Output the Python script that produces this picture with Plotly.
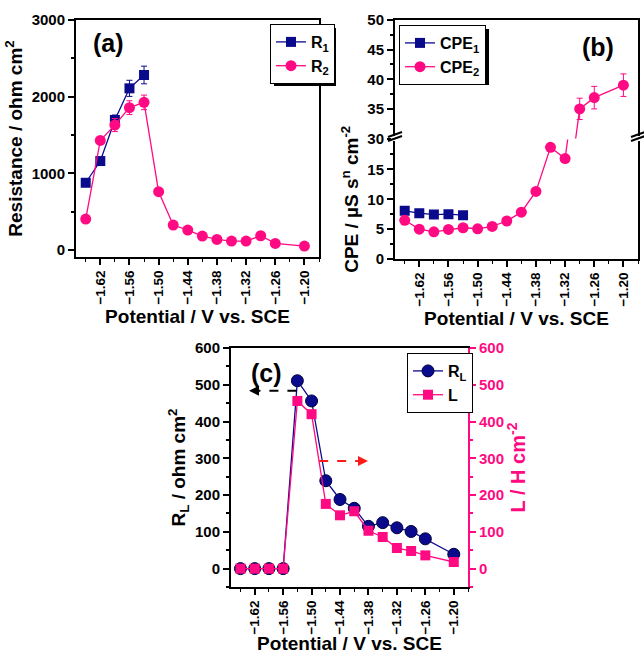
import plotly.graph_objects as go

# ---------------- data ----------------
potential = [-1.65, -1.62, -1.59, -1.56, -1.53, -1.50, -1.47, -1.44, -1.41,
             -1.38, -1.35, -1.32, -1.29, -1.26, -1.20]
potential_short = [-1.65, -1.62, -1.59, -1.56, -1.53]

r1 = [878, 1161, 1696, 2109, 2283]
r1_err = [25, 40, 65, 105, 115]
r2 = [404, 1430, 1630, 1857, 1926, 761, 326, 261, 183, 139, 117, 117, 187, 87, 52]
r2_err = [20, 30, 85, 90, 95, 20, 15, 10, 10, 10, 10, 10, 10, 10, 10]

cpe1 = [8.07, 7.67, 7.44, 7.50, 7.33]
cpe2 = [6.48, 5.00, 4.55, 4.94, 5.23, 5.06, 5.45, 6.36, 7.84, 11.3, 18.7, 16.8, 35.0, 36.9, 39.0]
cpe2_err = [0.2, 0.2, 0.2, 0.2, 0.2, 0.2, 0.2, 0.2, 0.2, 0.3, 0.5, 0.4, 1.8, 1.9, 1.9]

rl = [0, 0, 0, 0, 511, 456, 239, 188, 164, 115, 125, 111, 101, 81, 39]
l_ind = [0, 0, 0, 0, 456, 420, 176, 145, 156, 103, 86, 56, 48, 36, 18]

# ---------------- style ----------------
NAVY = "#0a0a8c"
PINK = "#ff0a82"
FONT = "Liberation Sans"
W, H = 644, 654

def px(x):
    return x / W

def py(y):
    return 1 - y / H

xtickfont = dict(family=FONT, size=13.5, color="black", weight="bold")
ytickfont = dict(family=FONT, size=15, color="black", weight="bold")
titlefont = dict(family=FONT, size=19, color="black", weight="bold")

fig = go.Figure()

# ---------------- panel (a) ----------------
fig.add_trace(go.Scatter(x=potential_short, y=r1, mode="lines+markers", name="R<sub>1</sub>",
                         line=dict(color=NAVY, width=1.3),
                         marker=dict(symbol="square", size=10, color=NAVY),
                         error_y=dict(type="data", array=r1_err, color=NAVY, thickness=1, width=3),
                         xaxis="x", yaxis="y", legend="legend"))
fig.add_trace(go.Scatter(x=potential, y=r2, mode="lines+markers", name="R<sub>2</sub>",
                         line=dict(color=PINK, width=1.3),
                         marker=dict(symbol="circle", size=11, color=PINK),
                         error_y=dict(type="data", array=r2_err, color=PINK, thickness=1, width=3),
                         xaxis="x", yaxis="y", legend="legend"))

# ---------------- panel (b) broken axis ----------------
fig.add_trace(go.Scatter(x=potential_short, y=cpe1, mode="lines+markers", name="CPE<sub>1</sub>",
                         line=dict(color=NAVY, width=1.3),
                         marker=dict(symbol="square", size=10, color=NAVY),
                         xaxis="x2", yaxis="y2", legend="legend2"))
fig.add_trace(go.Scatter(x=potential, y=cpe2, mode="lines+markers", name="CPE<sub>2</sub>",
                         line=dict(color=PINK, width=1.3),
                         marker=dict(symbol="circle", size=11, color=PINK),
                         error_y=dict(type="data", array=cpe2_err, color=PINK, thickness=1, width=3),
                         xaxis="x2", yaxis="y2", legend="legend2"))
fig.add_trace(go.Scatter(x=potential, y=cpe2, mode="lines+markers", name="CPE<sub>2</sub>",
                         line=dict(color=PINK, width=1.3),
                         marker=dict(symbol="circle", size=11, color=PINK),
                         error_y=dict(type="data", array=cpe2_err, color=PINK, thickness=1, width=3),
                         xaxis="x3", yaxis="y3", showlegend=False))

# ---------------- panel (c) ----------------
fig.add_trace(go.Scatter(x=potential, y=rl, mode="lines+markers", name="R<sub>L</sub>",
                         line=dict(color=NAVY, width=1.3),
                         marker=dict(symbol="circle", size=12, color=NAVY,
                                     line=dict(color="#000040", width=1)),
                         xaxis="x4", yaxis="y4", legend="legend3"))
fig.add_trace(go.Scatter(x=potential, y=l_ind, mode="lines+markers", name="L",
                         line=dict(color=PINK, width=1.3),
                         marker=dict(symbol="square", size=10, color=PINK),
                         xaxis="x4", yaxis="y5", legend="legend3"))

# ---------------- axes ----------------
xcommon = dict(range=[-1.67, -1.17], tick0=-1.62, dtick=0.06, tickformat=".2f",
               tickangle=-90, ticks="outside", ticklen=6, tickwidth=1.5, tickcolor="black",
               showline=True, linewidth=2, linecolor="black", showgrid=False, zeroline=False,
               tickfont=xtickfont, automargin=False,
               minor=dict(ticks="outside", ticklen=3, tickwidth=1.2, tick0=-1.62, dtick=0.03,
                          tickcolor="black", showgrid=False))

def ycommon(**kw):
    d = dict(ticks="outside", ticklen=6, tickwidth=1.5, tickcolor="black",
             showline=True, linewidth=2, linecolor="black", showgrid=False, zeroline=False,
             tickfont=ytickfont, automargin=False)
    d.update(kw)
    return d

xa = (px(76), px(319))
ya = (py(257), py(20))
xb = (px(395), px(638))
yb_low = (py(259), py(139.5))
yb_up = (py(138.5), py(20))
xc = (px(231), px(468))
yc = (py(587), py(348))

fig.update_layout(
    xaxis=dict(xcommon, domain=list(xa), anchor="y", mirror=True,
               title=dict(text="Potential / V vs. SCE", font=titlefont, standoff=6)),
    yaxis=dict(ycommon(range=[-90, 3000], dtick=1000, mirror=True,
                       minor=dict(ticks="outside", ticklen=3, dtick=500, tickcolor="black")),
               domain=list(ya), anchor="x",
               title=dict(text="Resistance / ohm cm<sup>2</sup>", font=titlefont, standoff=4)),
    xaxis2=dict(xcommon, domain=list(xb), anchor="y2",
                title=dict(text="Potential / V vs. SCE", font=titlefont, standoff=6)),
    yaxis2=dict(ycommon(range=[0, 20], tickvals=[0, 5, 10, 15], mirror=True,
                        minor=dict(ticks="outside", ticklen=3, tickvals=[2.5, 7.5, 12.5, 17.5],
                                   tickcolor="black")),
                domain=list(yb_low), anchor="x2",
                title=dict(text="CPE / µS s<sup>n</sup> cm<sup>-2</sup>", font=titlefont, standoff=4)),
    xaxis3=dict(range=[-1.67, -1.17], domain=list(xb), anchor="y3", matches="x2", side="top",
                showline=True, linewidth=2, linecolor="black", ticks="", showticklabels=False,
                showgrid=False, zeroline=False, automargin=False),
    yaxis3=dict(ycommon(range=[30, 50], dtick=5, mirror=True,
                        minor=dict(ticks="outside", ticklen=3, dtick=2.5, tickcolor="black")),
                domain=list(yb_up), anchor="x3"),
    xaxis4=dict(xcommon, domain=list(xc), anchor="y4", mirror=True,
                title=dict(text="Potential / V vs. SCE", font=titlefont, standoff=6)),
    yaxis4=dict(ycommon(range=[-50, 600], dtick=100,
                        minor=dict(ticks="outside", ticklen=3, dtick=50, tickcolor="black")),
                domain=list(yc), anchor="x4",
                title=dict(text="R<sub>L</sub> / ohm cm<sup>2</sup>", font=titlefont, standoff=4)),
    yaxis5=dict(ycommon(range=[-50, 600], dtick=100, linecolor=PINK, tickcolor=PINK,
                        tickfont=dict(family=FONT, size=15, color=PINK, weight="bold"),
                        minor=dict(ticks="outside", ticklen=3, dtick=50, tickcolor=PINK)),
                overlaying="y4", side="right", anchor="x4",
                title=dict(text="L / H cm<sup>-2</sup>",
                           font=dict(family=FONT, size=20, color=PINK, weight="bold"), standoff=4)),
)

legfont = dict(family=FONT, size=16, color="black", weight="bold")
legends = {
    "legend": (270, 24),
    "legend2": (399, 25),
    "legend3": (407, 353),
}
fig.update_layout(**{
    name: dict(x=px(x), y=py(y), xanchor="left", yanchor="top", bgcolor="white",
               bordercolor="black", borderwidth=1, font=legfont, itemwidth=30,
               tracegroupgap=0)
    for name, (x, y) in legends.items()
})

# legend drop shadows (approximate legend boxes)
for (x0, y0, w, h) in [(270, 24, 62, 58), (399, 25, 86, 56), (407, 353, 61, 54)]:
    fig.add_shape(type="rect", xref="paper", yref="paper",
                  x0=px(x0 + 4), x1=px(x0 + w + 4), y0=py(y0 + h + 4), y1=py(y0 + 4),
                  fillcolor="black", line=dict(width=0), layer="above")

# panel labels
for txt, x, y in [("(a)", 108, 43), ("(b)", 598, 47), ("(c)", 266, 373)]:
    fig.add_annotation(text=txt, x=px(x), y=py(y), xref="paper", yref="paper",
                       xanchor="center", yanchor="middle",
                       showarrow=False, font=dict(family=FONT, size=25, color="black", weight="bold"))

# axis break marks for panel (b)
for xb_px in (395, 638):
    fig.add_shape(type="rect", x0=px(xb_px - 4), x1=px(xb_px + 4), y0=py(141), y1=py(136),
                  xref="paper", yref="paper", fillcolor="white", line=dict(width=0), layer="above")
    for dy in (0, 4):
        fig.add_shape(type="line", x0=px(xb_px - 7), y0=py(141 - dy), x1=px(xb_px + 7),
                      y1=py(136 - dy), xref="paper", yref="paper",
                      line=dict(color="black", width=2), layer="above")

# arrows in panel (c)
fig.add_shape(type="line", x0=-1.532, x1=-1.612, y0=484, y1=484, xref="x4", yref="y4",
              line=dict(color="black", width=2, dash="dash"))
fig.add_annotation(x=-1.632, y=484, ax=-1.612, ay=484, xref="x4", yref="y4",
                   axref="x4", ayref="y4", text="", showarrow=True, arrowhead=2,
                   arrowsize=1, arrowwidth=2, arrowcolor="black")
fig.add_shape(type="line", x0=-1.484, x1=-1.400, y0=293, y1=293, xref="x4", yref="y4",
              line=dict(color="#ff1a1a", width=2, dash="dash"))
fig.add_annotation(x=-1.381, y=293, ax=-1.402, ay=293, xref="x4", yref="y4",
                   axref="x4", ayref="y4", text="", showarrow=True, arrowhead=2,
                   arrowsize=1, arrowwidth=2, arrowcolor="#ff1a1a")

fig.update_layout(width=W, height=H, autosize=False,
                  margin=dict(l=0, r=0, t=0, b=0, autoexpand=False),
                  paper_bgcolor="white", plot_bgcolor="white", showlegend=True)

fig.write_html("out.html")
